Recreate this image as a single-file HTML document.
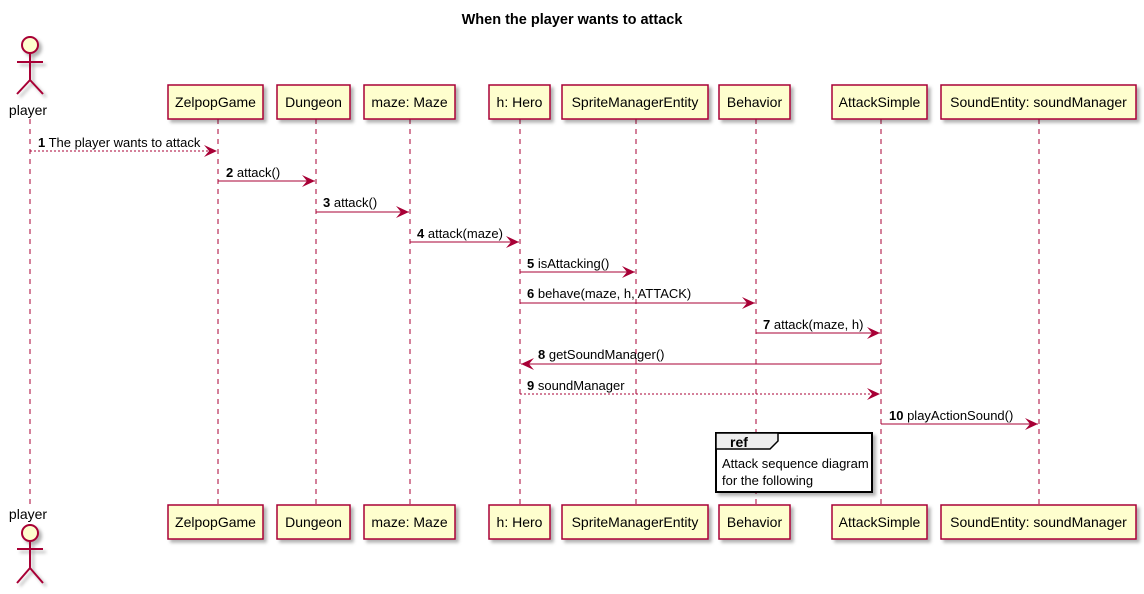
<!DOCTYPE html>
<html><head><meta charset="utf-8"><style>body{margin:0;background:#fff}svg{display:block;font-family:"Liberation Sans",sans-serif}</style></head>
<body>
<svg width="1144" height="594" viewBox="0 0 1144 594" xmlns="http://www.w3.org/2000/svg">
<defs>
<filter id="sh" x="-10%" y="-10%" width="130%" height="140%"><feDropShadow dx="3" dy="3" stdDeviation="1.5" flood-color="#000" flood-opacity="0.3"/></filter>
<marker id="ar" markerWidth="14" markerHeight="12" refX="13" refY="6" orient="auto" markerUnits="userSpaceOnUse"><path d="M0,0 L13,6 L0,12 L5,6 Z" fill="#A80036"/></marker>
</defs>
<text x="572" y="24" text-anchor="middle" font-size="14.5" font-weight="bold">When the player wants to attack</text>
<g stroke="#A80036" stroke-width="1" stroke-dasharray="5,5">
<line x1="30" y1="119" x2="30" y2="505"/>
<line x1="218" y1="119" x2="218" y2="505"/>
<line x1="316" y1="119" x2="316" y2="505"/>
<line x1="410" y1="119" x2="410" y2="505"/>
<line x1="520" y1="119" x2="520" y2="505"/>
<line x1="636" y1="119" x2="636" y2="505"/>
<line x1="756" y1="119" x2="756" y2="505"/>
<line x1="881" y1="119" x2="881" y2="505"/>
<line x1="1039" y1="119" x2="1039" y2="505"/>
</g>
<g fill="#FEFECE" stroke="#A80036" stroke-width="1.5" filter="url(#sh)">
<rect x="168" y="85" width="95" height="34"/><rect x="277" y="85" width="73" height="34"/><rect x="364" y="85" width="91" height="34"/><rect x="489" y="85" width="61" height="34"/><rect x="562" y="85" width="146" height="34"/><rect x="719" y="85" width="71" height="34"/><rect x="832" y="85" width="95" height="34"/><rect x="941" y="85" width="195" height="34"/>
<rect x="168" y="505" width="95" height="34"/><rect x="277" y="505" width="73" height="34"/><rect x="364" y="505" width="91" height="34"/><rect x="489" y="505" width="61" height="34"/><rect x="562" y="505" width="146" height="34"/><rect x="719" y="505" width="71" height="34"/><rect x="832" y="505" width="95" height="34"/><rect x="941" y="505" width="195" height="34"/>
</g>
<g font-size="14" text-anchor="middle">
<text x="215.5" y="107">ZelpopGame</text><text x="313.5" y="107">Dungeon</text><text x="409.5" y="107">maze: Maze</text><text x="519.5" y="107">h: Hero</text><text x="635" y="107">SpriteManagerEntity</text><text x="754.5" y="107">Behavior</text><text x="879.5" y="107">AttackSimple</text><text x="1038.5" y="107">SoundEntity: soundManager</text>
<text x="215.5" y="527">ZelpopGame</text><text x="313.5" y="527">Dungeon</text><text x="409.5" y="527">maze: Maze</text><text x="519.5" y="527">h: Hero</text><text x="635" y="527">SpriteManagerEntity</text><text x="754.5" y="527">Behavior</text><text x="879.5" y="527">AttackSimple</text><text x="1038.5" y="527">SoundEntity: soundManager</text>
<text x="28" y="115" font-size="14">player</text><text x="28" y="519" font-size="14">player</text>
</g>
<g stroke="#A80036" stroke-width="2" fill="#FEFECE" filter="url(#sh)">
<circle cx="30" cy="45" r="8"/><path d="M30,53 V80 M17,62 H43 M30,80 L17,94 M30,80 L43,94" fill="none"/>
<circle cx="30" cy="533" r="8"/><path d="M30,541 V568 M17,549 H43 M30,568 L17,583 M30,568 L43,583" fill="none"/>
</g>
<g stroke="#A80036" stroke-width="1" marker-end="url(#ar)">
<line x1="30" y1="151" x2="217" y2="151" stroke-dasharray="2,2"/>
<line x1="218" y1="181" x2="315" y2="181"/>
<line x1="316" y1="212" x2="409" y2="212"/>
<line x1="410" y1="242" x2="519" y2="242"/>
<line x1="520" y1="272" x2="635" y2="272"/>
<line x1="520" y1="303" x2="755" y2="303"/>
<line x1="756" y1="333" x2="880" y2="333"/>
<line x1="881" y1="364" x2="521" y2="364"/>
<line x1="520" y1="394" x2="880" y2="394" stroke-dasharray="2,2"/>
<line x1="881" y1="424" x2="1038" y2="424"/>
</g>
<g font-size="13">
<text x="38" y="147"><tspan font-weight="bold">1</tspan> The player wants to attack</text>
<text x="226" y="177"><tspan font-weight="bold">2</tspan> attack()</text>
<text x="323" y="207"><tspan font-weight="bold">3</tspan> attack()</text>
<text x="417" y="238"><tspan font-weight="bold">4</tspan> attack(maze)</text>
<text x="527" y="268"><tspan font-weight="bold">5</tspan> isAttacking()</text>
<text x="527" y="298"><tspan font-weight="bold">6</tspan> behave(maze, h, ATTACK)</text>
<text x="763" y="329"><tspan font-weight="bold">7</tspan> attack(maze, h)</text>
<text x="538" y="359"><tspan font-weight="bold">8</tspan> getSoundManager()</text>
<text x="527" y="390"><tspan font-weight="bold">9</tspan> soundManager</text>
<text x="889" y="420"><tspan font-weight="bold">10</tspan> playActionSound()</text>
</g>
<rect x="716" y="433" width="156" height="59" fill="#fff" stroke="#000" stroke-width="2" filter="url(#sh)"/>
<path d="M716,433 H778 V441 L770,449 H716 Z" fill="#EEEEEE" stroke="#000" stroke-width="1.5"/>
<text x="730" y="447" font-size="14" font-weight="bold">ref</text>
<text x="722" y="468" font-size="13">Attack sequence diagram</text>
<text x="722" y="485" font-size="13">for the following</text>
</svg>
</body></html>
